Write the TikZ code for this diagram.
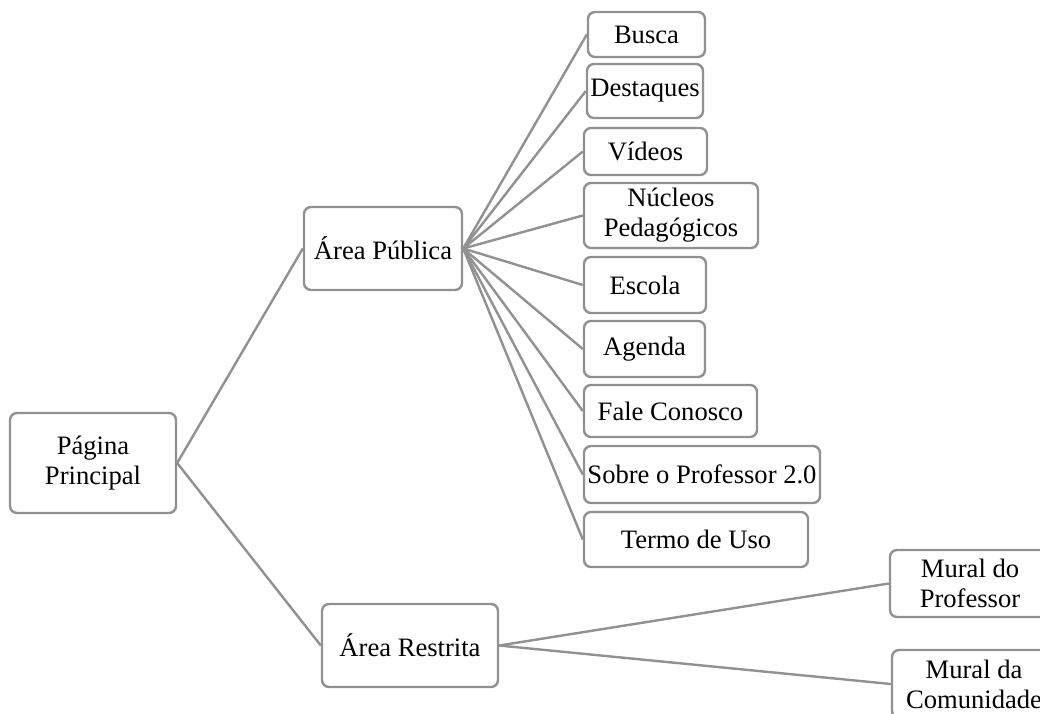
\documentclass[tikz,border=0pt]{standalone}
\usepackage{fontspec}
\setmainfont{Liberation Serif}
\definecolor{linegray}{RGB}{145,145,145}
\begin{document}
\begin{tikzpicture}[x=1pt,y=-1pt,
  box/.style={draw=linegray,line width=2.4pt,rounded corners=7pt,fill=white,
    inner sep=0pt,align=center,font=\fontsize{26.6}{30}\selectfont},
  link/.style={draw=linegray,line width=2.4pt}]
\useasboundingbox (0,0) rectangle (1040,713);
\clip (0,0) rectangle (1040,713);
% nodes
\node[box,minimum width=166pt,minimum height=100pt] (pp) at (93,463) {Página\\Principal};
\node[box,minimum width=158pt,minimum height=83pt] (ap) at (383,248.5) {Área Pública};
\node[box,minimum width=176pt,minimum height=83pt] (ar) at (410,645.5) {Área Restrita};
\node[box,minimum width=117pt,minimum height=45pt] (busca) at (646.5,34.5) {Busca};
\node[box,minimum width=116pt,minimum height=54pt] (dest) at (645,91) {Destaques};
\node[box,minimum width=123pt,minimum height=47pt] (vid) at (645.5,151.5) {Vídeos};
\node[box,minimum width=174pt,minimum height=65pt] (nuc) at (671,215.5) {Núcleos\\Pedagógicos};
\node[box,minimum width=122pt,minimum height=56pt] (esc) at (645,285) {Escola};
\node[box,minimum width=121pt,minimum height=56pt] (age) at (644.5,349) {Agenda};
\node[box,minimum width=173pt,minimum height=52pt] (fale) at (670.5,411) {Fale Conosco};
\node[box,minimum width=236pt,minimum height=57pt] (sobre) at (702,474.5) {Sobre o Professor 2.0};
\node[box,minimum width=224pt,minimum height=55pt] (termo) at (696,539.5) {Termo de Uso};
\node[box,minimum width=160pt,minimum height=67pt] (mp) at (970,583.5) {Mural do\\Professor};
\node[box,minimum width=164pt,minimum height=68pt] (mc) at (974,684) {Mural da\\Comunidade};
% connectors
\draw[link] (pp.east) -- (ap.west);
\draw[link] (pp.east) -- (ar.west);
\foreach \c in {busca,dest,vid,nuc,esc,age,fale,sobre,termo}
  \draw[link] (ap.east) -- (\c.west);
\draw[link] (ar.east) -- (mp.west);
\draw[link] (ar.east) -- (mc.west);
\end{tikzpicture}
\end{document}
